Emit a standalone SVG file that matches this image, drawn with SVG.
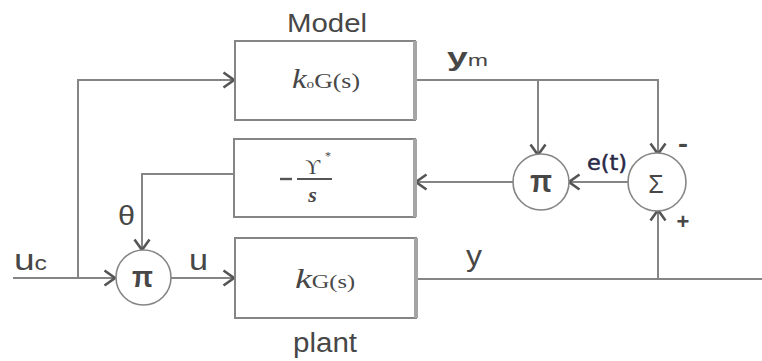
<svg xmlns="http://www.w3.org/2000/svg" width="762" height="361" viewBox="0 0 762 361">
<style>
.ln{fill:none;stroke:#858585;stroke-width:2}
.bx{fill:#fff;stroke:#858585;stroke-width:2}
.sh{stroke:#a5a5a5;stroke-width:4}
.cr{fill:#fff;stroke:#858585;stroke-width:1.6}
.t{font-family:"Liberation Sans",Arial,sans-serif;fill:#474747}
.s{font-family:"Liberation Serif","Times New Roman",serif;fill:#474747}
</style>
<defs>
<marker id="a" viewBox="0 0 14 18" refX="12" refY="9" markerWidth="14" markerHeight="18" markerUnits="userSpaceOnUse" orient="auto">
<path d="M1.5,1.5 L12,9 L1.5,16.5" fill="none" stroke="#555" stroke-width="2.6"/>
</marker>
</defs>
<rect width="762" height="361" fill="#fff"/>
<g id="connectors">
<path class="ln" d="M13,278 H115" marker-end="url(#a)"/>
<path class="ln" d="M78,278 V80 H234" marker-end="url(#a)"/>
<path class="ln" d="M171,278 H234" marker-end="url(#a)"/>
<path class="ln" d="M416,80 H658 V154" marker-end="url(#a)"/>
<path class="ln" d="M538,80 V155" marker-end="url(#a)"/>
<path class="ln" d="M629,182 H569" marker-end="url(#a)"/>
<path class="ln" d="M513,182 H416" marker-end="url(#a)"/>
<path class="ln" d="M233,174 H142 V250" marker-end="url(#a)"/>
<path class="ln" d="M418,279 H762"/>
<path class="ln" d="M658,279 V210" marker-end="url(#a)"/>
</g>
<g id="model">
<rect class="bx" x="235" y="41" width="180" height="79"/>
<line class="sh" x1="415" y1="41" x2="415" y2="120"/>
<text class="t" x="287" y="32" font-size="26" textLength="80" lengthAdjust="spacingAndGlyphs">Model</text>
<text class="s" x="292" y="88" font-size="22" textLength="68" lengthAdjust="spacingAndGlyphs"><tspan font-style="italic" font-size="28">k</tspan><tspan font-size="13">o</tspan>G(s)</text>
</g>
<g id="adapt">
<rect class="bx" x="234" y="139" width="181" height="78"/>
<line class="sh" x1="415" y1="139" x2="415" y2="217"/>
<line x1="280" y1="179" x2="292" y2="179" stroke="#555" stroke-width="2.4"/>
<line x1="297" y1="179" x2="332" y2="179" stroke="#555" stroke-width="2"/>
<text class="s" x="312.5" y="174" font-size="21" text-anchor="middle">ϒ</text>
<text class="s" x="328" y="160" font-size="12" text-anchor="middle">*</text>
<text class="s" x="312.5" y="202" font-size="22" font-style="italic" font-weight="bold" text-anchor="middle">s</text>
</g>
<g id="plant">
<rect class="bx" x="235" y="238" width="181" height="80"/>
<line class="sh" x1="416" y1="238" x2="416" y2="318"/>
<text class="s" x="295" y="288" font-size="18" textLength="60" lengthAdjust="spacingAndGlyphs"><tspan font-style="italic" font-size="28">k</tspan>G(s)</text>
<text class="t" x="293" y="352" font-size="27" textLength="64" lengthAdjust="spacingAndGlyphs">plant</text>
</g>
<g id="mult1">
<circle class="cr" cx="143.5" cy="277.5" r="27.5"/>
<text class="t" x="132" y="287" font-size="30" font-weight="bold" textLength="21" lengthAdjust="spacingAndGlyphs">π</text>
</g>
<g id="mult2">
<circle class="cr" cx="541" cy="182" r="28"/>
<text class="t" x="530" y="192" font-size="32" font-weight="bold" textLength="22" lengthAdjust="spacingAndGlyphs">π</text>
</g>
<g id="sum">
<circle class="cr" cx="657" cy="182" r="29"/>
<text class="t" x="656" y="193" font-size="25" text-anchor="middle">Σ</text>
</g>
<g id="labels">
<text class="t" x="14" y="270" font-size="30" textLength="33" lengthAdjust="spacingAndGlyphs">u<tspan font-size="20">c</tspan></text>
<text class="t" x="189" y="270" font-size="30" textLength="19" lengthAdjust="spacingAndGlyphs">u</text>
<text class="t" x="118" y="225" font-size="27" textLength="17" lengthAdjust="spacingAndGlyphs">θ</text>
<text class="t" x="447" y="66" font-size="26" font-weight="bold" textLength="41" lengthAdjust="spacingAndGlyphs">y<tspan font-size="17" font-weight="normal">m</tspan></text>
<text class="t" x="466" y="266" font-size="30" textLength="16" lengthAdjust="spacingAndGlyphs">y</text>
<text x="587" y="170" font-size="21" font-family="'DejaVu Sans',sans-serif" fill="#2a2a48" stroke="#2a2a48" stroke-width="0.5" textLength="40" lengthAdjust="spacingAndGlyphs">e(t)</text>
<text class="t" x="683" y="152" font-size="26" font-weight="bold" text-anchor="middle" textLength="10" lengthAdjust="spacingAndGlyphs">-</text>
<text class="t" x="683" y="229" font-size="22" font-weight="bold" text-anchor="middle">+</text>
</g>
</svg>
